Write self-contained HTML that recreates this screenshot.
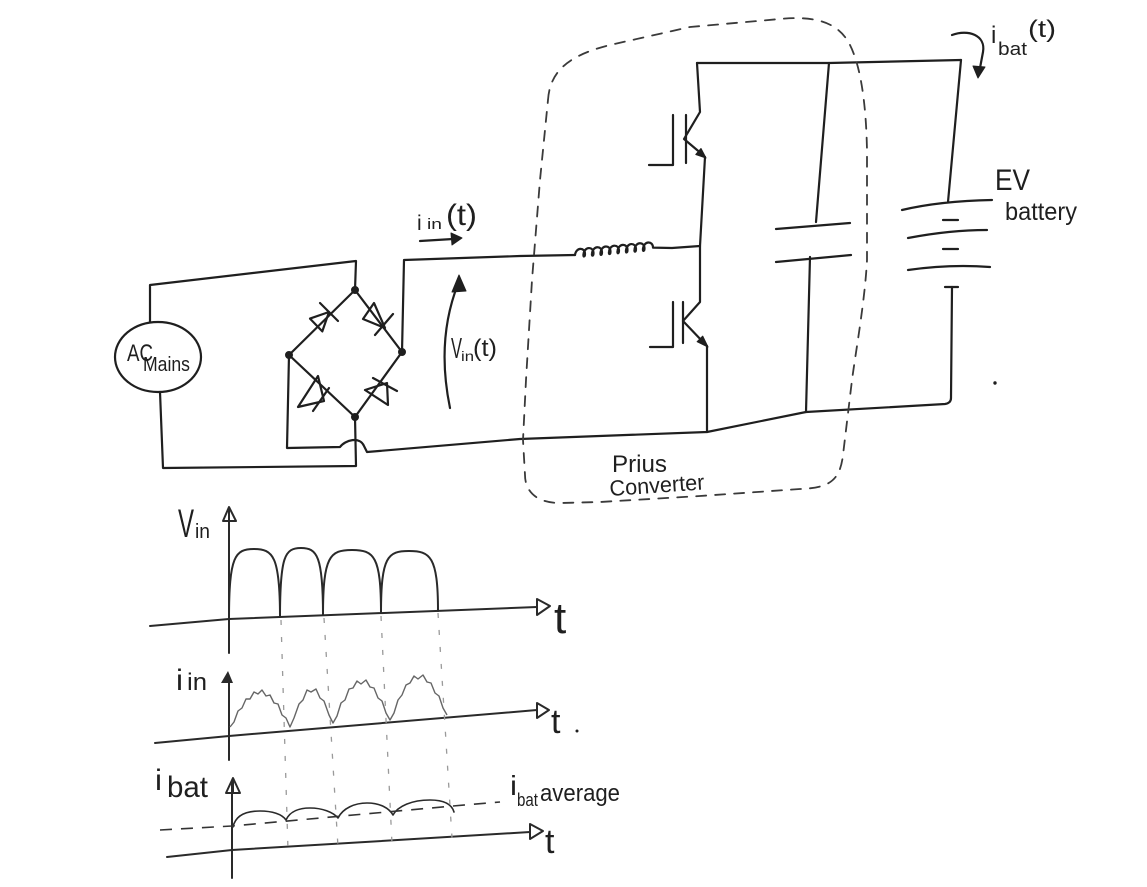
<!DOCTYPE html>
<html>
<head>
<meta charset="utf-8">
<style>
html,body{margin:0;padding:0;background:#fff;width:1147px;height:887px;overflow:hidden}
svg{display:block}
text{font-family:"Liberation Sans",sans-serif;fill:#1f1f1f}
</style>
</head>
<body>
<svg width="1147" height="887" viewBox="0 0 1147 887" xmlns="http://www.w3.org/2000/svg">
<rect width="1147" height="887" fill="#fff"/>

<!-- ===== Circuit ===== -->
<g fill="none" stroke="#1f1f1f" stroke-width="2.2" stroke-linecap="round" stroke-linejoin="round">
  <path d="M150,322 L150,285 L356,261 L355,290"/>
  <path d="M160,392 L163,468 L356,466 L355,417"/>
  <ellipse cx="158" cy="357" rx="43" ry="35"/>
  <path d="M289,355 L355,290 L402,352 L355,417 Z"/>
  <polygon points="310,318.6 322.3,331.4 329,312"/>
  <path d="M320,303 L338,321"/>
  <polygon points="363,319 374,303 385,328"/>
  <path d="M375,335 L393,314"/>
  <polygon points="298,407 318,376 324,401"/>
  <path d="M313,411 L329,388"/>
  <polygon points="365,390 387,383 388,405"/>
  <path d="M373,378 L397,391"/>
  <path d="M289,355 L287,448 L340,447 C345,440 360,436 364,446 L367,452 L520,439 L707,432 L806,412 L945,404 Q951,403 951,398 L952,287"/>
  <path d="M945,287 L958,287"/>
  <path d="M402,352 L404,260 L520,256 L575,255"/>
  <!-- inductor -->
  <path d="M575,255 c1,-8 10,-8 10,-1 c0,3 -2,3.5 -1.5,0.2 c1,-8 10,-8 10,-1 c0,3 -2,3.5 -1.5,0.2 c1,-8 10,-8 10,-1 c0,3 -2,3.5 -1.5,0.2 c1,-8 10,-8 10,-1 c0,3 -2,3.5 -1.5,0.2 c1,-8 10,-8 10,-1 c0,3 -2,3.5 -1.5,0.2 c1,-8 10,-8 10,-1 c0,3 -2,3.5 -1.5,0.2 c1,-8 10,-8 10,-1 c0,3 -2,3.5 -1.5,0.2 c1,-8 10,-8 10,-1 c0,3 -2,3.5 -1.5,0.2 c1,-8 10,-8 10,-1 L672,248 L700,246"/>
  <path d="M697,63 L829,63 L961,60"/>
  <path d="M697,63 L700,112 L684,139 L703,155"/>
  <path d="M705,157 L700,246 L700,302 L683,321 L704,343"/>
  <path d="M707,346 L707,432"/>
  <path d="M686,115 L686,163 M673,115 L673,165 L649,165"/>
  <path d="M683,302 L683,343 M673,302 L673,347 L650,347"/>
  <path d="M829,63 L816,222 M776,229 L850,223 M776,262 L851,255 M810,257 L806,412"/>
  <path d="M961,60 L948,202 M902,210 Q940,201 992,200 M943,220 L958,220 M908,238 Q950,230 987,230 M943,249 L958,249 M908,270 Q950,264 990,267"/>
  <path d="M420,241 L453,239"/>
  <path d="M450,408 Q436,340 458,284"/>
  <path d="M952,35 C968,29 986,35 983,52 L980,68"/>
</g>

<g fill="#1f1f1f" stroke="#1f1f1f" stroke-width="1" stroke-linejoin="round">
  <circle cx="355" cy="290" r="3.5"/>
  <circle cx="289" cy="355" r="3.5"/>
  <circle cx="402" cy="352" r="3.5"/>
  <circle cx="355" cy="417" r="3.5"/>
  <polygon points="706,158 695.8,154.5 701,148.5"/>
  <polygon points="708,347 697.1,341.7 702.7,336.1"/>
  <polygon points="462,238 451,233 452,245"/>
  <polygon points="459,275 452,292 466,291"/>
  <polygon points="978,78 973,66 985,67"/>
  <circle cx="995" cy="383" r="1.2"/>
</g>

<path fill="none" stroke="#3a3a3a" stroke-width="1.8" stroke-dasharray="10 9" stroke-linecap="round"
 d="M548,100 C550,70 570,55 610,45 L690,27 L780,19 C820,15 840,25 850,45 C860,65 866,100 867,150 L867,260 C865,300 856,350 852,380 L843,455 C840,480 830,488 800,489 L700,496 L600,502 L560,503 C535,503 525,490 525,475 L523,440 L526,380 L532,280 L540,180 Z"/>

<text x="127" y="361" font-size="24" textLength="26" lengthAdjust="spacingAndGlyphs">AC</text>
<text x="143" y="371" font-size="20" textLength="47" lengthAdjust="spacingAndGlyphs">Mains</text>

<text x="417" y="230" font-size="21">i</text>
<text x="427" y="229" font-size="15" textLength="15" lengthAdjust="spacingAndGlyphs">in</text>
<text x="446" y="225" font-size="30" textLength="31" lengthAdjust="spacingAndGlyphs">(t)</text>

<text x="451" y="358" font-size="29" textLength="11" lengthAdjust="spacingAndGlyphs">V</text>
<text x="461" y="361" font-size="14" textLength="13" lengthAdjust="spacingAndGlyphs">in</text>
<text x="473" y="356" font-size="24" textLength="24" lengthAdjust="spacingAndGlyphs">(t)</text>

<text x="612" y="472" font-size="24" textLength="55" lengthAdjust="spacingAndGlyphs">Prius</text>
<text x="610" y="496" font-size="22" textLength="95" lengthAdjust="spacingAndGlyphs" transform="rotate(-4 610 496)">Converter</text>

<text x="991" y="43" font-size="24">i</text>
<text x="998" y="55" font-size="18" textLength="29" lengthAdjust="spacingAndGlyphs">bat</text>
<text x="1028" y="37" font-size="24" textLength="28" lengthAdjust="spacingAndGlyphs">(t)</text>

<text x="995" y="190" font-size="30" textLength="35" lengthAdjust="spacingAndGlyphs">EV</text>
<text x="1005" y="220" font-size="25" textLength="72" lengthAdjust="spacingAndGlyphs">battery</text>

<!-- ===== Graphs ===== -->
<g fill="none" stroke="#2a2a2a" stroke-width="2" stroke-linecap="round" stroke-linejoin="round">
  <path d="M150,626 L229,619 L537,607"/>
  <path d="M229,512 L229,653"/>
  <path d="M223,521 L229,507 L236,521 Z M229,508 L229,521"/>
  <path d="M537,599 L537,615 L550,606 Z"/>
  <path d="M229,619 C229,556 235,549 254,549 C273,549 280,556 280,617 C280,556 285,548 301,548 C317,548 323,556 323,615 C323,556 330,550 352,550 C374,550 381,556 381,613 C381,556 388,551 409,551 C430,551 438,556 438,611"/>
  <path d="M155,743 L229,736 L537,710"/>
  <path d="M229,678 L229,760"/>
  <path d="M537,703 L537,718 L549,710 Z"/>
  <path d="M167,857 L232,850 L530,832"/>
  <path d="M232,782 L232,878"/>
  <path d="M226,793 L233,778 L240,793 Z M233,780 L233,793"/>
  <path d="M530,824 L530,839 L543,831 Z"/>
  <path stroke-width="1.6" d="M233,827 C236,813 250,811 260,811 C272,811 282,814 286,820 C290,811 300,808 310,808 C322,808 333,812 338,818 C343,808 355,803 367,803 C380,803 389,808 393,815 C398,806 412,800 430,800 C445,800 452,805 454,812"/>
</g>
<path fill="#2a2a2a" d="M221,683 L228,671 L233,683 Z"/>
<path fill="none" stroke="#666" stroke-width="1.4" stroke-linejoin="round"
 d="M230,727 L234,722 L238,711 L242,708 L246,699 L250,699 L254,692 L258,694 L262,690 L266,696 L270,695 L274,703 L278,704 L282,715 L286,718 L290,727 L294,718 L299,704 L303,700 L307,690 L311,692 L316,689 L320,698 L324,701 L329,715 L333,723 L337,716 L341,703 L345,700 L349,689 L353,688 L357,681 L361,684 L366,680 L370,687 L374,688 L378,698 L382,701 L386,713 L390,720 L394,713 L398,700 L402,695 L406,685 L410,683 L414,676 L418,679 L423,675 L427,682 L431,683 L435,693 L439,696 L443,708 L447,715"/>
<path fill="none" stroke="#333" stroke-width="1.6" stroke-dasharray="12 9" d="M160,830 L232,826 L453,806 L500,802"/>
<path fill="none" stroke="#9a9a9a" stroke-width="1.3" stroke-dasharray="5 12" d="M281,620 L288,850 M324,618 L338,847 M381,616 L392,844 M438,613 L452,838"/>

<text x="178" y="537" font-size="40" textLength="16" lengthAdjust="spacingAndGlyphs">V</text>
<text x="195" y="538" font-size="20" textLength="15" lengthAdjust="spacingAndGlyphs">in</text>
<text x="554" y="633" font-size="44">t</text>

<text x="176" y="690" font-size="30" textLength="7" lengthAdjust="spacingAndGlyphs">i</text>
<text x="187" y="690" font-size="24" textLength="20" lengthAdjust="spacingAndGlyphs">in</text>
<text x="551" y="733" font-size="34">t</text>
<circle cx="577" cy="731" r="1.5" fill="#1f1f1f"/>

<text x="155" y="790" font-size="30" textLength="7" lengthAdjust="spacingAndGlyphs">i</text>
<text x="167" y="797" font-size="30" textLength="41" lengthAdjust="spacingAndGlyphs">bat</text>
<text x="545" y="853" font-size="34">t</text>

<text x="510" y="795" font-size="28" textLength="7" lengthAdjust="spacingAndGlyphs">i</text>
<text x="517" y="806" font-size="18" textLength="21" lengthAdjust="spacingAndGlyphs">bat</text>
<text x="540" y="801" font-size="24" textLength="80" lengthAdjust="spacingAndGlyphs">average</text>
</svg>
</body>
</html>
